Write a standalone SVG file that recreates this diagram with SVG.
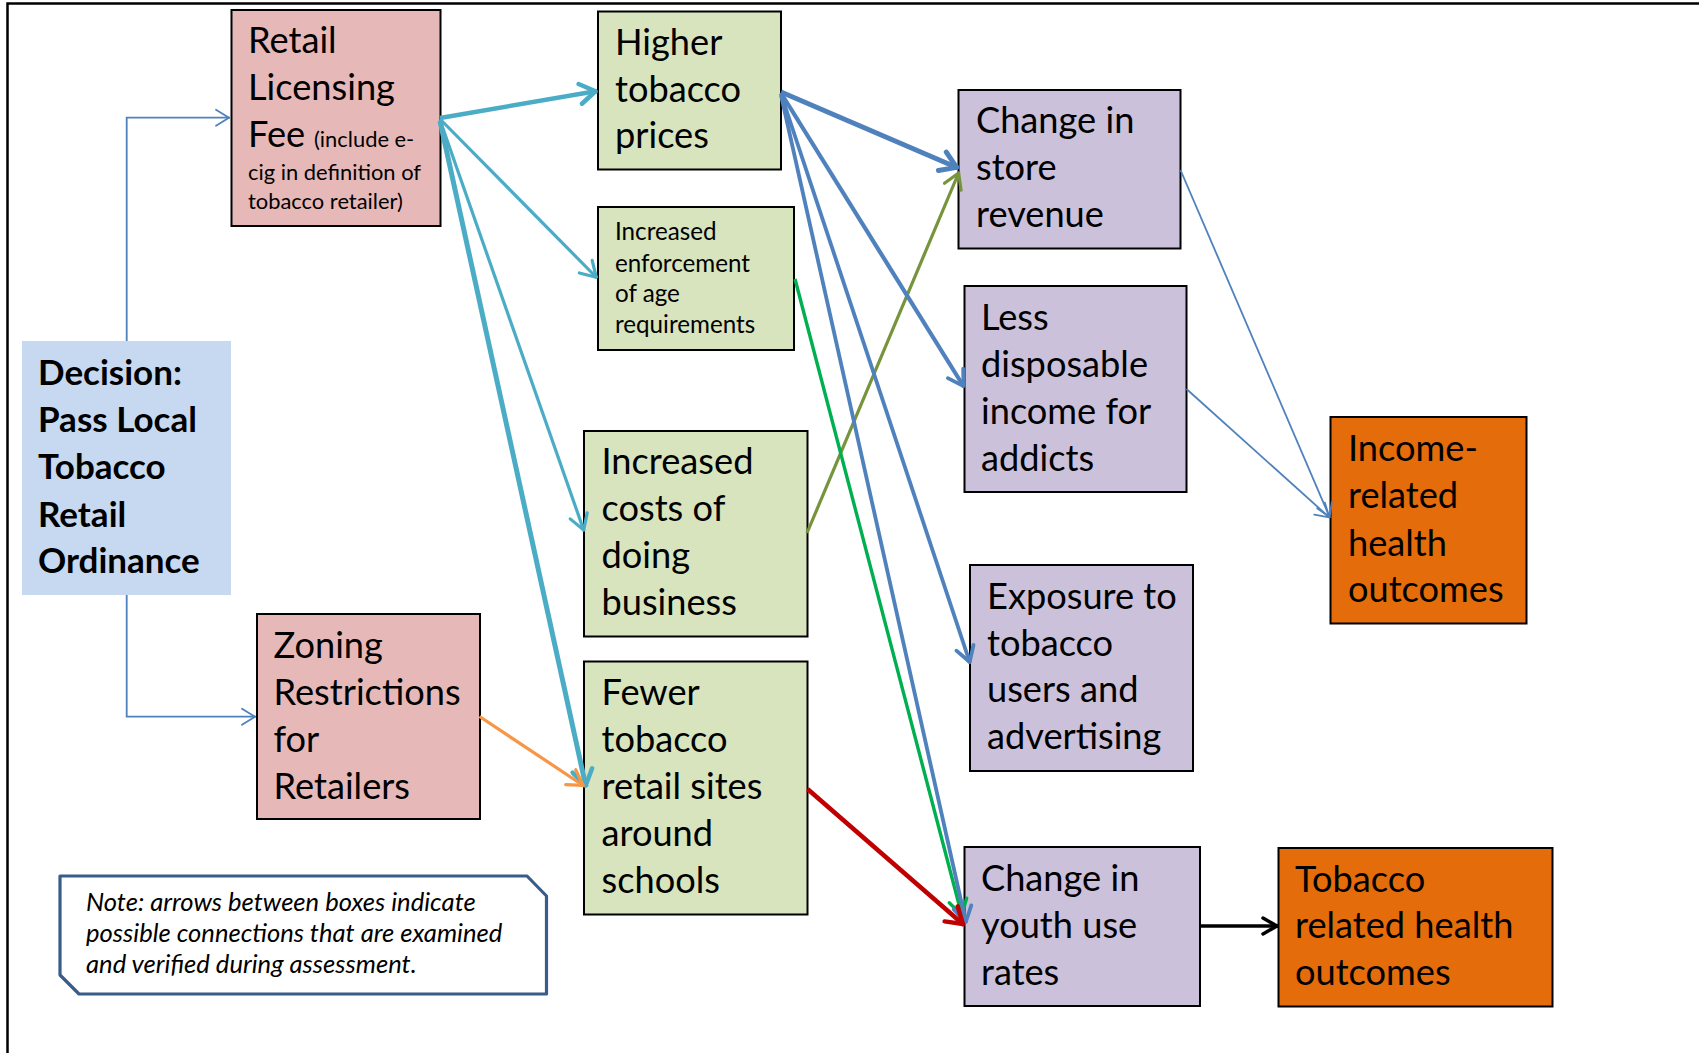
<svg xmlns="http://www.w3.org/2000/svg" width="1699" height="1053" viewBox="0 0 1699 1053">
<style>
.box{stroke:#000;stroke-width:2}
.pink{fill:#E6B9B8}.green{fill:#D7E4BD}.purple{fill:#CCC1DA}.orange{fill:#E46C0A}.dec{fill:#C6D9F1}
text{font-family:Lato,"Open Sans","Liberation Sans",sans-serif;fill:#000}
.big{font-size:36.2px}
.small{font-size:24.2px}
.tiny{font-size:21.9px}
.bold{font-size:35px;font-weight:bold}
.note{font-size:25.6px;font-style:italic}
.c{fill:none;stroke-linecap:butt}
</style>
<defs>
<marker id="aThin" markerUnits="userSpaceOnUse" markerWidth="40" markerHeight="40" viewBox="-20 -20 40 40" refX="0" refY="0" orient="auto"><path d="M-14,-8 L-1,0 L-14,8" fill="none" stroke="#4F81BD" stroke-width="1.8" stroke-linecap="round" stroke-linejoin="round"/></marker>
<marker id="aCyanT" markerUnits="userSpaceOnUse" markerWidth="40" markerHeight="40" viewBox="-20 -20 40 40" refX="0" refY="0" orient="auto"><path d="M-17,-10 L-1.5,0 L-17,10" fill="none" stroke="#4BACC6" stroke-width="4.5" stroke-linecap="round" stroke-linejoin="round"/></marker>
<marker id="aCyan" markerUnits="userSpaceOnUse" markerWidth="40" markerHeight="40" viewBox="-20 -20 40 40" refX="0" refY="0" orient="auto"><path d="M-16,-9 L-1,0 L-16,9" fill="none" stroke="#4BACC6" stroke-width="3.2" stroke-linecap="round" stroke-linejoin="round"/></marker>
<marker id="aOrange" markerUnits="userSpaceOnUse" markerWidth="40" markerHeight="40" viewBox="-20 -20 40 40" refX="0" refY="0" orient="auto"><path d="M-16,-9 L-1,0 L-16,9" fill="none" stroke="#F79646" stroke-width="3.2" stroke-linecap="round" stroke-linejoin="round"/></marker>
<marker id="aBlueT" markerUnits="userSpaceOnUse" markerWidth="40" markerHeight="40" viewBox="-20 -20 40 40" refX="0" refY="0" orient="auto"><path d="M-17,-10 L-1.5,0 L-17,10" fill="none" stroke="#4F81BD" stroke-width="5" stroke-linecap="round" stroke-linejoin="round"/></marker>
<marker id="aBlue" markerUnits="userSpaceOnUse" markerWidth="40" markerHeight="40" viewBox="-20 -20 40 40" refX="0" refY="0" orient="auto"><path d="M-16,-9 L-1,0 L-16,9" fill="none" stroke="#4F81BD" stroke-width="3.8" stroke-linecap="round" stroke-linejoin="round"/></marker>
<marker id="aGreen" markerUnits="userSpaceOnUse" markerWidth="40" markerHeight="40" viewBox="-20 -20 40 40" refX="0" refY="0" orient="auto"><path d="M-16,-9 L-1,0 L-16,9" fill="none" stroke="#00B050" stroke-width="3.4" stroke-linecap="round" stroke-linejoin="round"/></marker>
<marker id="aOlive" markerUnits="userSpaceOnUse" markerWidth="40" markerHeight="40" viewBox="-20 -20 40 40" refX="0" refY="0" orient="auto"><path d="M-16,-9 L-1,0 L-16,9" fill="none" stroke="#77933C" stroke-width="3.2" stroke-linecap="round" stroke-linejoin="round"/></marker>
<marker id="aRed" markerUnits="userSpaceOnUse" markerWidth="40" markerHeight="40" viewBox="-20 -20 40 40" refX="0" refY="0" orient="auto"><path d="M-17,-10 L-1.5,0 L-17,10" fill="none" stroke="#C00000" stroke-width="4.5" stroke-linecap="round" stroke-linejoin="round"/></marker>
<marker id="aBlack" markerUnits="userSpaceOnUse" markerWidth="40" markerHeight="40" viewBox="-20 -20 40 40" refX="0" refY="0" orient="auto"><path d="M-15,-8 L-1,0 L-15,8" fill="none" stroke="#000" stroke-width="3.5" stroke-linecap="round" stroke-linejoin="round"/></marker>
</defs>
<rect width="1699" height="1053" fill="#fff"/>
<path d="M7.5,1053 V3.5 H1699" fill="none" stroke="#000" stroke-width="2.5"/>

<g id="n-decision">
<rect class="dec" x="22" y="341" width="209" height="254"/>
<text class="bold" x="38"><tspan x="38" y="385">Decision:</tspan><tspan x="38" y="432">Pass Local</tspan><tspan x="38" y="479">Tobacco</tspan><tspan x="38" y="526.5">Retail</tspan><tspan x="38" y="573">Ordinance</tspan></text>
</g>
<g id="n-retail">
<rect class="box pink" x="231.5" y="10" width="209" height="216"/>
<text class="big"><tspan x="248" y="53">Retail</tspan><tspan x="248" y="100">Licensing</tspan><tspan x="248" y="147">Fee</tspan></text>
<text class="tiny"><tspan x="314" y="147">(include e-</tspan><tspan x="248" y="180">cig in definition of</tspan><tspan x="248" y="209">tobacco retailer)</tspan></text>
</g>
<g id="n-zoning">
<rect class="box pink" x="257" y="614" width="223" height="205"/>
<text class="big"><tspan x="273.5" y="658">Zoning</tspan><tspan x="273.5" y="705">Restrictions</tspan><tspan x="273.5" y="752">for</tspan><tspan x="273.5" y="799">Retailers</tspan></text>
</g>
<g id="n-higher">
<rect class="box green" x="598" y="11.5" width="183" height="158"/>
<text class="big"><tspan x="615" y="55">Higher</tspan><tspan x="615" y="102">tobacco</tspan><tspan x="615" y="148">prices</tspan></text>
</g>
<g id="n-enforcement">
<rect class="box green" x="598" y="207" width="196" height="143"/>
<text class="small"><tspan x="615" y="240">Increased</tspan><tspan x="615" y="271.5">enforcement</tspan><tspan x="615" y="302">of age</tspan><tspan x="615" y="333">requirements</tspan></text>
</g>
<g id="n-costs">
<rect class="box green" x="584" y="431" width="223.5" height="205.5"/>
<text class="big"><tspan x="601.5" y="474">Increased</tspan><tspan x="601.5" y="521">costs of</tspan><tspan x="601.5" y="568">doing</tspan><tspan x="601.5" y="615">business</tspan></text>
</g>
<g id="n-fewer">
<rect class="box green" x="584" y="661.5" width="223.5" height="253"/>
<text class="big"><tspan x="601.5" y="705">Fewer</tspan><tspan x="601.5" y="752">tobacco</tspan><tspan x="601.5" y="799">retail sites</tspan><tspan x="601.5" y="846">around</tspan><tspan x="601.5" y="893">schools</tspan></text>
</g>
<g id="n-store">
<rect class="box purple" x="958.5" y="90" width="222" height="158.5"/>
<text class="big"><tspan x="976" y="133">Change in</tspan><tspan x="976" y="180">store</tspan><tspan x="976" y="227">revenue</tspan></text>
</g>
<g id="n-disposable">
<rect class="box purple" x="964.5" y="286" width="222" height="206"/>
<text class="big"><tspan x="981" y="330">Less</tspan><tspan x="981" y="377">disposable</tspan><tspan x="981" y="424">income for</tspan><tspan x="981" y="471">addicts</tspan></text>
</g>
<g id="n-exposure">
<rect class="box purple" x="970" y="565" width="223" height="206"/>
<text class="big"><tspan x="987" y="609">Exposure to</tspan><tspan x="987" y="655.5">tobacco</tspan><tspan x="987" y="702">users and</tspan><tspan x="987" y="749">advertising</tspan></text>
</g>
<g id="n-youth">
<rect class="box purple" x="964.5" y="847" width="235.5" height="159"/>
<text class="big"><tspan x="981" y="891">Change in</tspan><tspan x="981" y="938">youth use</tspan><tspan x="981" y="985">rates</tspan></text>
</g>
<g id="n-income">
<rect class="box orange" x="1330.5" y="417" width="196" height="206.5"/>
<text class="big"><tspan x="1348" y="461">Income-</tspan><tspan x="1348" y="508">related</tspan><tspan x="1348" y="555.5">health</tspan><tspan x="1348" y="602">outcomes</tspan></text>
</g>
<g id="n-tobacco-health">
<rect class="box orange" x="1278.5" y="848" width="274" height="158.5"/>
<text class="big"><tspan x="1295" y="891.5">Tobacco</tspan><tspan x="1295" y="938">related health</tspan><tspan x="1295" y="985">outcomes</tspan></text>
</g>
<g id="n-note">
<path d="M60,876 H527 L546.5,896 V994 H79 L60,975 Z" fill="#fff" stroke="#385D8A" stroke-width="3.2" stroke-linejoin="round"/>
<text class="note"><tspan x="86" y="911">Note: arrows between boxes indicate</tspan><tspan x="86" y="942">possible connections that are examined</tspan><tspan x="86" y="973">and verified during assessment.</tspan></text>
</g>

<g id="connectors" class="c">
<path d="M126.7,341 V117.7 H230" stroke="#4F81BD" stroke-width="1.8" fill="none" marker-end="url(#aThin)"/>
<path d="M126.7,595 V716.7 H256" stroke="#4F81BD" stroke-width="1.8" fill="none" marker-end="url(#aThin)"/>
<path d="M440,118 L597,91" stroke="#4BACC6" stroke-width="4.5" marker-end="url(#aCyanT)"/>
<path d="M440,119 L597,278" stroke="#4BACC6" stroke-width="3.2" marker-end="url(#aCyan)"/>
<path d="M440,120 L584,531" stroke="#4BACC6" stroke-width="3.2" marker-end="url(#aCyan)"/>
<path d="M440,121 L586,787" stroke="#4BACC6" stroke-width="5" marker-end="url(#aCyanT)"/>
<path d="M479.5,716.5 L584,786" stroke="#F79646" stroke-width="3.2" marker-end="url(#aOrange)"/>
<path d="M807,533 L959,172" stroke="#77933C" stroke-width="3.2" marker-end="url(#aOlive)"/>
<path d="M795,279 L962,916" stroke="#00B050" stroke-width="3.4" marker-end="url(#aGreen)"/>
<path d="M781,92 L958,168" stroke="#4F81BD" stroke-width="5" marker-end="url(#aBlueT)"/>
<path d="M781,93 L964,387" stroke="#4F81BD" stroke-width="4.2" marker-end="url(#aBlue)"/>
<path d="M781,94 L970,663" stroke="#4F81BD" stroke-width="3.8" marker-end="url(#aBlue)"/>
<path d="M781,95 L966,923" stroke="#4F81BD" stroke-width="3.8" marker-end="url(#aBlue)"/>
<path d="M807.5,789 L964,925" stroke="#C00000" stroke-width="4.5" marker-end="url(#aRed)"/>
<path d="M1180.5,170 L1330,518" stroke="#4F81BD" stroke-width="1.8" marker-end="url(#aThin)"/>
<path d="M1186.5,389 L1330,518" stroke="#4F81BD" stroke-width="1.8" marker-end="url(#aThin)"/>
<path d="M1200,926 L1278,926" stroke="#000" stroke-width="3.5" marker-end="url(#aBlack)"/>
</g>
</svg>
